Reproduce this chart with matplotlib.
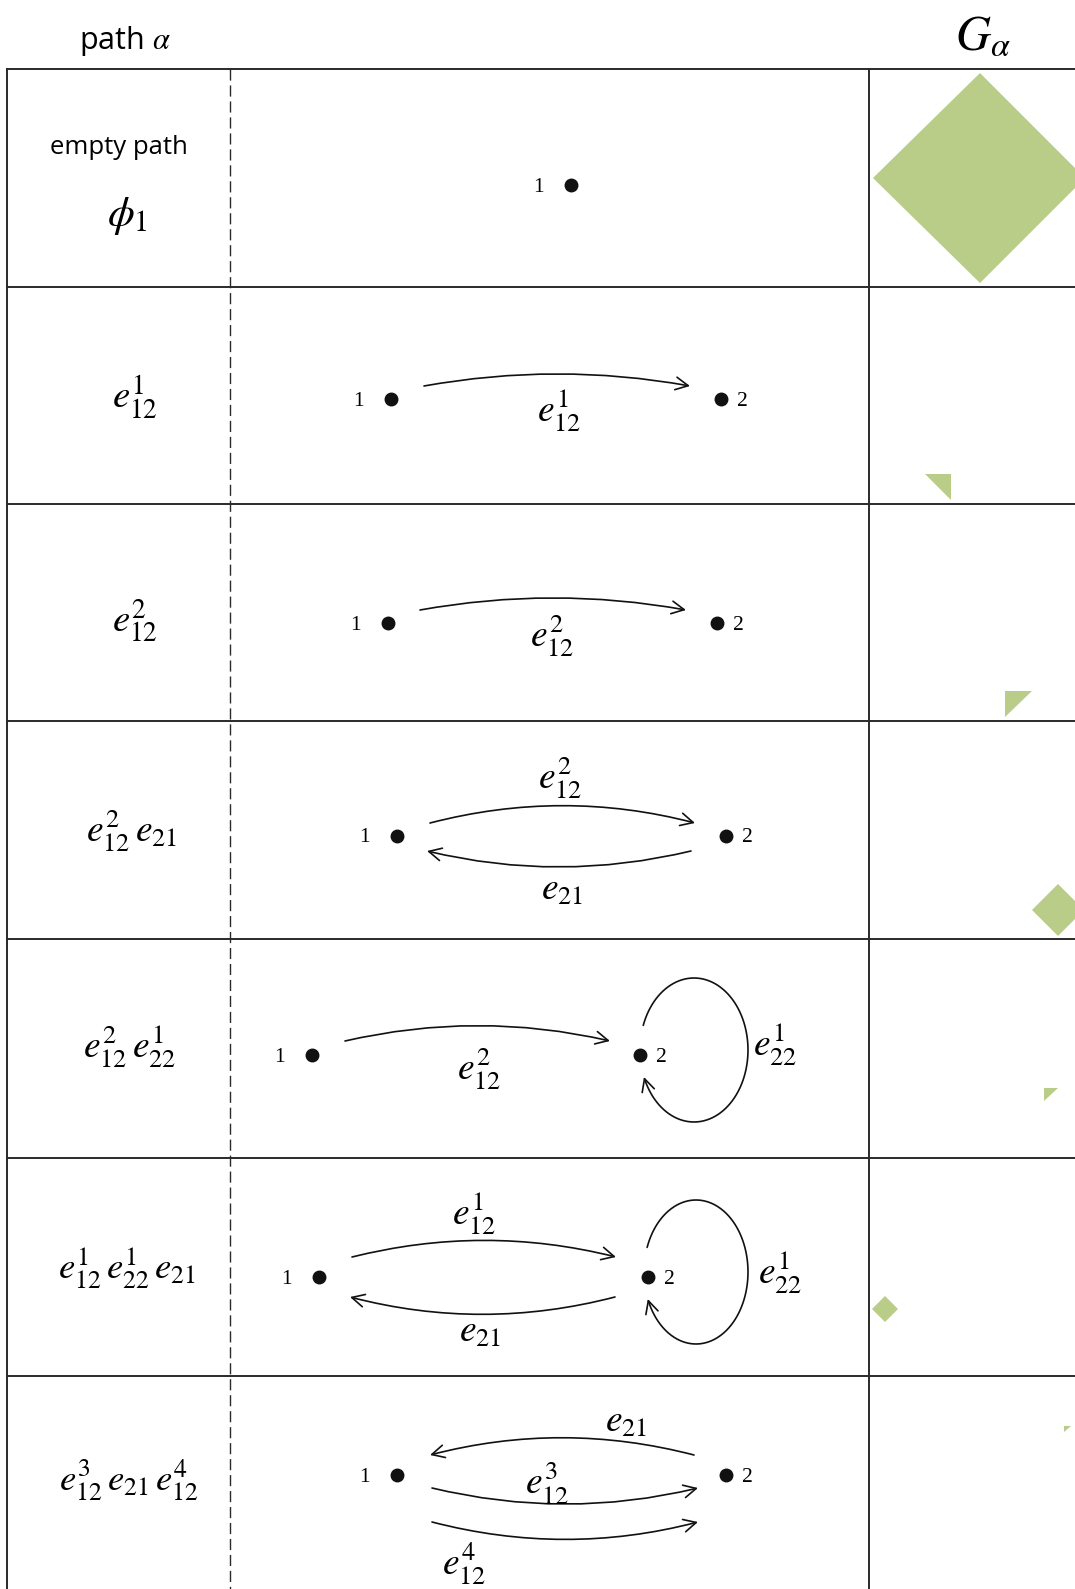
import numpy as np
import matplotlib.pyplot as plt
from matplotlib.patches import FancyArrowPatch, Polygon
from matplotlib.path import Path

plt.rcParams['mathtext.fontset'] = 'stix'
plt.rcParams['font.family'] = ['Open Sans', 'DejaVu Sans']

W, H = 1075, 1589
line_col = '#2a2a2a'
green = '#b9cd89'

# table layout (pixel coords, y down)
row_y = [69, 287, 504, 721, 939, 1158, 1376]
left_x, dash_x, solid_x = 7, 230, 869

# first column: path labels
path_labels = [r'$\phi_1$', r'$e_{12}^{1}$', r'$e_{12}^{2}$',
               r'$e_{12}^{2}\,e_{21}$', r'$e_{12}^{2}\,e_{22}^{1}$', r'$e_{12}^{1}\,e_{22}^{1}\,e_{21}$',
               r'$e_{12}^{3}\,e_{21}\,e_{12}^{4}$']
path_label_xy = [(127, 215), (135, 397), (135, 621), (132, 831), (130, 1047), (127, 1268), (129, 1480)]
path_label_size = [31, 28, 28, 27, 27, 26.5, 26.5]

# middle column: vertices (x, y, name)
nodes = [(571, 185, '1'),
         (391, 399, '1'), (721, 399, '2'),
         (388, 623, '1'), (717, 623, '2'),
         (397, 836, '1'), (726, 836, '2'),
         (312, 1055, '1'), (640, 1055, '2'),
         (319, 1277, '1'), (648, 1277, '2'),
         (397, 1475, '1'), (726, 1475, '2')]

# edges: start, end, curvature
edges = [((424, 386), (690, 386), -0.09),
         ((420, 610), (686, 610), -0.09),
         ((430, 823), (695, 823), -0.13),
         ((691, 851), (427, 851), -0.12),
         ((345, 1041), (610, 1041), -0.115),
         ((352, 1257), (616, 1257), -0.125),
         ((615, 1297), (350, 1297), -0.13),
         ((694, 1455), (430, 1455), 0.13),
         ((432, 1488), (698, 1488), 0.12),
         ((432, 1522), (698, 1522), 0.13)]

# self loops at vertex 2: centre, radii
loops = [((694, 1050), 54, 72), ((696, 1272), 52, 72)]

edge_labels = [r'$e_{12}^{1}$', r'$e_{12}^{2}$', r'$e_{12}^{2}$', r'$e_{21}$',
               r'$e_{12}^{2}$', r'$e_{22}^{1}$', r'$e_{12}^{1}$', r'$e_{21}$', r'$e_{22}^{1}$',
               r'$e_{21}$', r'$e_{12}^{3}$', r'$e_{12}^{4}$']
edge_label_xy = [(559, 411), (552, 636), (560, 778), (562, 890),
                 (479, 1069), (775, 1045), (474, 1214), (480, 1332), (780, 1273),
                 (626, 1422), (547, 1483), (464, 1564)]

# last column: G_alpha shapes
g_shapes = [[(980, 73), (1085, 178), (980, 283), (873, 178)],
            [(925, 474), (951, 474), (951, 500)],
            [(1005, 691), (1032, 691), (1005, 717)],
            [(1058, 884), (1084, 910), (1058, 936), (1032, 910)],
            [(1044, 1088), (1058, 1088), (1044, 1101)],
            [(885, 1296), (898, 1309), (885, 1322), (872, 1309)],
            [(1064, 1426), (1071, 1426), (1064, 1432)]]

fig = plt.figure(figsize=(W / 100, H / 100), dpi=100)
ax = fig.add_axes([0, 0, 1, 1])
ax.set_xlim(0, W)
ax.set_ylim(H, 0)
ax.axis('off')

# grid
for y in row_y:
    ax.plot([left_x, W], [y, y], color=line_col, lw=1.4)
ax.plot([left_x, left_x], [row_y[0], H], color=line_col, lw=1.4)
ax.plot([solid_x, solid_x], [row_y[0], H], color=line_col, lw=1.4)
ax.plot([dash_x, dash_x], [row_y[0], H], color=line_col, lw=1.0, ls=(0, (8, 3.5)))

# header
ax.text(125, 41, r'path $\alpha$', fontsize=22, ha='center', va='center')
ax.text(983, 37, r'$G_\alpha$', fontsize=35, ha='center', va='center')

ax.text(119, 148, 'empty path', fontsize=18.5, ha='center', va='center')
for lab, (x, y), fs in zip(path_labels, path_label_xy, path_label_size):
    ax.text(x, y, lab, fontsize=fs, ha='center', va='center')

# vertices
for x, y, name in nodes:
    ax.plot(x, y, 'o', color='#111111', ms=9)
    dx = -33 if name == '1' else 21
    ax.text(x + dx, y + 2, name, fontsize=15.5, family='Liberation Serif', ha='center', va='center')

astyle = '->,head_length=0.75,head_width=0.38'
for (p1, p2, rad) in edges:
    ax.add_patch(FancyArrowPatch(p1, p2, connectionstyle=f'arc3,rad={rad}', arrowstyle=astyle,
                                 mutation_scale=12, lw=1.2, color='#111111', shrinkA=0, shrinkB=0))

for (cx, cy), rx, ry in loops:
    t = np.radians(np.linspace(160, -158, 200))
    pts = np.column_stack([cx + rx * np.cos(t), cy - ry * np.sin(t)])
    ax.add_patch(FancyArrowPatch(path=Path(pts), arrowstyle=astyle, mutation_scale=12,
                                 lw=1.2, color='#111111'))

for lab, (x, y) in zip(edge_labels, edge_label_xy):
    ax.text(x, y, lab, fontsize=27, ha='center', va='center')

for pts in g_shapes:
    ax.add_patch(Polygon(pts, closed=True, facecolor=green, edgecolor='none'))

fig.savefig('out.png', dpi=100)
